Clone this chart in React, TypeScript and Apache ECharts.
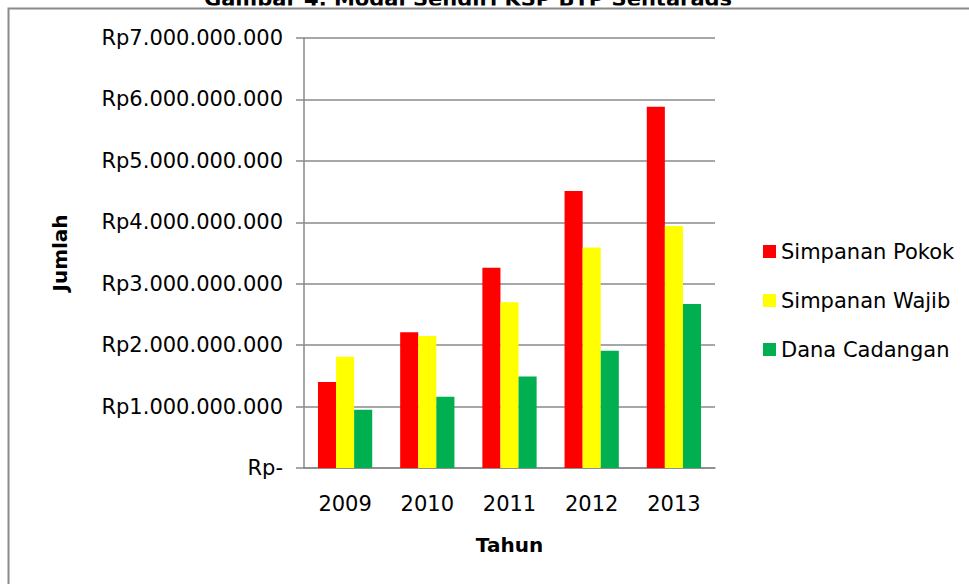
import React, { useEffect, useRef } from "react";
import * as echarts from "echarts";

const titleText = "Gambar 4. Modal Sendiri KSP BTP Sentarads";
const categories = ["2009", "2010", "2011", "2012", "2013"];
const seriesNames = ["Simpanan Pokok", "Simpanan Wajib", "Dana Cadangan"];
const simpananPokok = [1.40e9, 2.21e9, 3.26e9, 4.51e9, 5.88e9];
const simpananWajib = [1.81e9, 2.15e9, 2.70e9, 3.59e9, 3.94e9];
const danaCadangan = [0.95e9, 1.16e9, 1.49e9, 1.91e9, 2.67e9];
const yTickLabels = [
  "Rp-",
  "Rp1.000.000.000",
  "Rp2.000.000.000",
  "Rp3.000.000.000",
  "Rp4.000.000.000",
  "Rp5.000.000.000",
  "Rp6.000.000.000",
  "Rp7.000.000.000",
];
const colors = ["#FF0000", "#FFFF00", "#00B050"];

const FONT = "'DejaVu Sans', sans-serif";

export default function App() {
  const ref = useRef<HTMLDivElement>(null);
  useEffect(() => {
    if (!ref.current) return;
    const chart = echarts.init(ref.current, null, { renderer: "svg" });
    const values = [simpananPokok, simpananWajib, danaCadangan];
    chart.setOption({
      animation: false,
      backgroundColor: "#ffffff",
      textStyle: { fontFamily: FONT },
      graphic: [
        {
          type: "text",
          x: 468,
          y: 9,
          z: 1,
          style: {
            text: titleText,
            align: "center",
            verticalAlign: "bottom",
            fontFamily: FONT,
            fontSize: 21,
            fontWeight: "bold",
            fill: "#000",
          },
        },
        {
          type: "rect",
          z: 2,
          shape: { x: 0, y: 5.5, width: 1200, height: 3 },
          style: { fill: "#ffffff" },
          silent: true,
        },
        {
          type: "rect",
          z: 3,
          shape: { x: 8.5, y: 8.5, width: 1200, height: 1200 },
          style: { fill: "none", stroke: "#8a8a8a", lineWidth: 2 },
          silent: true,
        },
      ],
      legend: {
        orient: "vertical",
        left: 758,
        top: 236,
        icon: "rect",
        itemWidth: 13,
        itemHeight: 13,
        itemGap: 28,
        textStyle: { fontFamily: FONT, fontSize: 21, color: "#000" },
        data: seriesNames,
      },
      grid: { left: 304, right: 254, top: 38, bottom: 116 },
      xAxis: {
        type: "category",
        data: categories,
        name: "Tahun",
        nameLocation: "middle",
        nameGap: 67,
        nameTextStyle: { fontFamily: FONT, fontSize: 20, fontWeight: "bold", color: "#000" },
        axisLine: { lineStyle: { color: "#8a8a8a", width: 1.5 } },
        axisTick: { show: false },
        axisLabel: { fontFamily: FONT, fontSize: 21, color: "#000", margin: 25 },
      },
      yAxis: {
        type: "value",
        min: 0,
        max: 7e9,
        interval: 1e9,
        name: "Jumlah",
        nameLocation: "middle",
        nameGap: 234,
        nameRotate: 90,
        nameTextStyle: { fontFamily: FONT, fontSize: 20, fontWeight: "bold", color: "#000" },
        axisLine: { show: true, lineStyle: { color: "#8a8a8a", width: 1.5 } },
        axisTick: { show: true, length: 8, lineStyle: { color: "#8a8a8a", width: 1.5 } },
        splitLine: { lineStyle: { color: "#8a8a8a", width: 1.5 } },
        axisLabel: {
          fontFamily: FONT,
          fontSize: 21,
          color: "#000",
          margin: 21,
          formatter: (v: number) => yTickLabels[Math.round(v / 1e9)] ?? "",
        },
      },
      series: seriesNames.map((name, i) => ({
        name,
        type: "bar",
        data: values[i],
        barGap: "0%",
        barCategoryGap: "34%",
        itemStyle: { color: colors[i] },
      })),
    });
    return () => chart.dispose();
  }, []);
  return (
    <div
      ref={ref}
      style={{ position: "absolute", left: 0, top: 0, width: 969, height: 584 }}
    />
  );
}
